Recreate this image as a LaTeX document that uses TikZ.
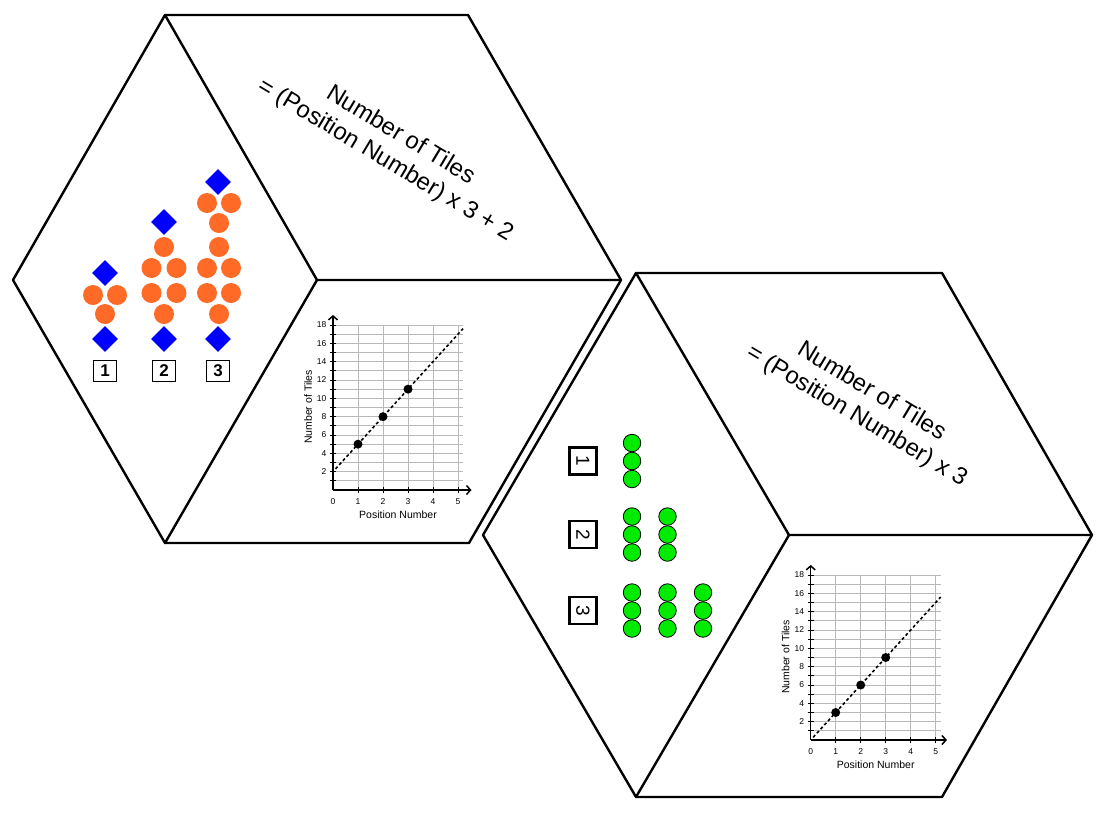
\documentclass[tikz,border=0pt]{standalone}
\usepackage{fontspec}
\setmainfont{Liberation Sans}
\usepackage{tikz}
\usetikzlibrary{arrows.meta, shapes.geometric}
\definecolor{TileOrange}{RGB}{255,106,38}
\definecolor{TileBlue}{RGB}{0,0,255}
\definecolor{TileGreen}{RGB}{0,235,0}
\definecolor{GridGray}{RGB}{185,185,185}

\begin{document}
\begin{tikzpicture}[x=1pt, y=-1pt,
  hexln/.style={line width=2.4pt, line join=round, line cap=round},
  eqn/.style={font=\fontsize{24}{29}\selectfont, align=center, rotate=-31},
  ortile/.style={circle, fill=TileOrange, minimum size=20pt, inner sep=0pt},
  bldia/.style={diamond, fill=TileBlue, minimum size=26pt, inner sep=0pt},
  grtile/.style={circle, draw=black, line width=0.8pt, fill=TileGreen,
                 minimum size=17.5pt, inner sep=0pt},
  numbox/.style={draw, line width=1.8pt, minimum width=23pt, minimum height=21pt,
                 inner sep=0pt, font=\fontsize{17}{17}\selectfont\bfseries},
  numboxr/.style={draw, line width=2.6pt, minimum size=27pt, inner sep=0pt,
                  rotate=-90, font=\fontsize{19}{19}\selectfont},
  axln/.style={line width=1.5pt, -{Straight Barb[length=4pt, width=9pt]}},
  gridln/.style={GridGray, line width=0.8pt},
  fitln/.style={line width=1.6pt, dash pattern=on 3pt off 2.5pt},
  datapt/.style={circle, fill=black, minimum size=9pt, inner sep=0pt},
  ticklab/.style={font=\fontsize{8.5}{9}\selectfont, inner sep=1pt},
  axlab/.style={font=\fontsize{10.5}{11}\selectfont}
]
  \useasboundingbox (0,0) rectangle (1118,820);

  % ---- upper hexagon ----
  \coordinate (aL)  at (13,280);
  \coordinate (aTL) at (165,15);
  \coordinate (aTR) at (468,15);
  \coordinate (aR)  at (621,280);
  \coordinate (aBR) at (469,543);
  \coordinate (aBL) at (165,543);
  \coordinate (aC)  at (317,280);
  \draw[hexln] (aL) -- (aTL) -- (aTR) -- (aR) -- (aBR) -- (aBL) -- cycle;
  \draw[hexln] (aTL) -- (aC) -- (aR);
  \draw[hexln] (aC) -- (aBL);

  \node[eqn] (eqa) at (393,148) {Number of Tiles\\= (Position Number) x 3 + 2};

  % tile patterns
  \foreach \x/\y [count=\k] in {105/273,164/222,218/182,105/339,164/339,218/339}
    \node[bldia] (da\k) at (\x,\y) {};
  \foreach \x/\y [count=\k] in {93/295,117/295,105/314,
      164/247,151.5/268,176.5/268,151.5/293,176.5/293,164/314,
      207/203,231/203,219/223,219/247,207/268,231/268,207/293,231/293,219/314}
    \node[ortile] (oa\k) at (\x,\y) {};
  \foreach \x/\n in {105/1,164/2,218/3}
    \node[numbox] (na\n) at (\x,371) {\n};

  % graph
  \begin{scope}[shift={(333pt,-490pt)}, x=25pt, y=9.1667pt]
    \foreach \i in {1,...,5} \draw[gridln] (\i,0) -- (\i,18);
    \foreach \j in {1,...,18} \draw[gridln] (0,\j) -- (5.2,\j);
    \foreach \i in {1,...,5} \draw[line width=1pt] (\i,0) ++(0pt,-3pt) -- ++(0pt,6pt);
    \foreach \j in {1,...,18} \draw[line width=1pt] (0,\j) ++(-3pt,0pt) -- ++(6pt,0pt);
    \coordinate (oa) at (0,0);
    \coordinate (xa) at (5.54,0);
    \coordinate (ya) at (0,19.1);
    \draw[axln] (oa) -- (xa);
    \draw[axln] (oa) -- (ya);
    \foreach \i in {0,...,5} \node[ticklab] (xla\i) at (\i,0) [yshift=-12pt] {\i};
    \foreach \j in {2,4,...,18} \node[ticklab, anchor=east] (yla\j) at (0,\j) [xshift=-5.5pt] {\j};
    \node[axlab, rotate=90] (yta) at (-1,9.05) {Number of Tiles};
    \node[axlab] (xta) at (2.6,0) [yshift=-25pt] {Position Number};
    \coordinate (fa1) at (0.1,2.3);
    \coordinate (fa2) at (5.2,17.6);
    \draw[fitln] (fa1) -- (fa2);
    \foreach \i/\v in {1/5,2/8,3/11} \node[datapt] (pa\i) at (\i,\v) {};
  \end{scope}

  % ---- lower hexagon ----
  \coordinate (bL)  at (483,535);
  \coordinate (bTL) at (636,273);
  \coordinate (bTR) at (942,273);
  \coordinate (bR)  at (1092,535);
  \coordinate (bBR) at (942,797);
  \coordinate (bBL) at (636,797);
  \coordinate (bC)  at (789,535);
  \draw[hexln] (bL) -- (bTL) -- (bTR) -- (bR) -- (bBR) -- (bBL) -- cycle;
  \draw[hexln] (bTL) -- (bC) -- (bR);
  \draw[hexln] (bC) -- (bBL);

  \node[eqn] (eqb) at (864,404) {Number of Tiles\\= (Position Number) x 3};

  % tile patterns
  \foreach \n/\y in {1/461,2/534.5,3/610.5} {
    \node[numboxr] (nb\n) at (583,\y) {\n};
    \foreach \k in {1,...,\n}
      \foreach \r in {0,1,2}
        \node[grtile] (gb\n\k\r) at ({632+35.5*(\k-1)},{\y+18*(\r-1)}) {};
  }

  % graph
  \begin{scope}[shift={(810.7pt,-740pt)}, x=25pt, y=9.1667pt]
    \foreach \i in {1,...,5} \draw[gridln] (\i,0) -- (\i,18);
    \foreach \j in {1,...,18} \draw[gridln] (0,\j) -- (5.2,\j);
    \foreach \i in {1,...,5} \draw[line width=1pt] (\i,0) ++(0pt,-3pt) -- ++(0pt,6pt);
    \foreach \j in {1,...,18} \draw[line width=1pt] (0,\j) ++(-3pt,0pt) -- ++(6pt,0pt);
    \coordinate (ob) at (0,0);
    \coordinate (xb) at (5.45,0);
    \coordinate (yb) at (0,19.1);
    \draw[axln] (ob) -- (xb);
    \draw[axln] (ob) -- (yb);
    \foreach \i in {0,...,5} \node[ticklab] (xlb\i) at (\i,0) [yshift=-12pt] {\i};
    \foreach \j in {2,4,...,18} \node[ticklab, anchor=east] (ylb\j) at (0,\j) [xshift=-5.5pt] {\j};
    \node[axlab, rotate=90] (ytb) at (-1,9.05) {Number of Tiles};
    \node[axlab] (xtb) at (2.6,0) [yshift=-25pt] {Position Number};
    \coordinate (fb1) at (0.1,0.3);
    \coordinate (fb2) at (5.2,15.6);
    \draw[fitln] (fb1) -- (fb2);
    \foreach \i/\v in {1/3,2/6,3/9} \node[datapt] (pb\i) at (\i,\v) {};
  \end{scope}
\end{tikzpicture}
\end{document}
